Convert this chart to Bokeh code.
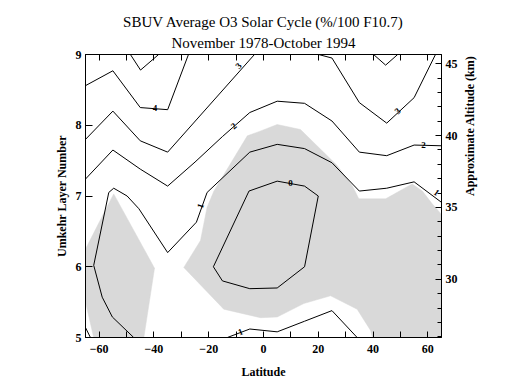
import math
from bokeh.plotting import figure
from bokeh.models import Range1d, LinearAxis, FixedTicker, Title
from bokeh.core.properties import value
from bokeh.embed import file_html
from bokeh.resources import INLINE

# ---- contour lines (latitude, Umkehr layer) ----
c4_lat = [-65, -55, -45, -35, -27.4]
c4_lay = [8.56, 8.77, 8.25, 8.22, 9.0]
c5_lat = [-48.6, -44.9, -38.3]
c5_lay = [9.0, 8.78, 9.0]
c3a_lat = [-65, -55, -45, -35, -3.3]
c3a_lay = [7.80, 8.20, 7.78, 7.62, 9.0]
c3b_lat = [20.1, 25, 35, 45, 55, 62.8]
c3b_lay = [9.0, 8.95, 8.32, 8.03, 8.39, 9.0]
c4b_lat = [40.2, 44.6, 49.0]
c4b_lay = [9.0, 8.85, 9.0]
c2_lat = [-65, -55, -45, -35, -25, -15, -5, 5, 15, 25, 35, 45, 55, 65]
c2_lay = [7.24, 7.65, 7.38, 7.14, 7.48, 7.84, 8.18, 8.34, 8.31, 8.06, 7.62, 7.57, 7.72, 7.71]
c1_lat = [65, 55, 45, 35, 25, 15, 5, -5, -20.6, -24.5, -35, -45.5, -49.8, -54.7, -56.5, -62.0, -58.9, -55.2, -47.4]
c1_lay = [6.91, 7.20, 7.11, 7.07, 7.47, 7.67, 7.73, 7.62, 7.05, 6.63, 6.20, 6.82, 7.0, 7.11, 7.05, 6.02, 5.57, 5.29, 5.0]
c1b_lat = [-13.2, -5, 5, 15, 25, 34.2]
c1b_lay = [5.0, 5.12, 5.08, 5.23, 5.38, 5.0]
c0_lat = [-18.3, -5.3, 5, 15, 20, 15, 5, -5, -15, -18.3]
c0_lay = [6.0, 7.07, 7.21, 7.14, 7.0, 6.0, 5.70, 5.69, 5.80, 6.0]
cc_lat = [-65, -63.2]
cc_lay = [5.14, 5.0]

contour_lines = [(c4_lat, c4_lay), (c5_lat, c5_lay), (c3a_lat, c3a_lay), (c3b_lat, c3b_lay),
                 (c4b_lat, c4b_lay), (c2_lat, c2_lay), (c1_lat, c1_lay), (c1b_lat, c1b_lay),
                 (c0_lat, c0_lay), (cc_lat, cc_lay)]

# ---- shaded (gray) regions ----
g1_lat = [-54.7, -39.8, -43.7, -62.0, -65, -65]
g1_lay = [7.03, 5.98, 5.0, 5.0, 5.5, 6.25]
g2_lat = [-29.1, -23.0, -20.6, -18.1, -5.9, -1.0, 5.0, 13.5, 26.9, 32.5, 34.8, 44.6, 54.3, 58.0, 61.6, 65,
          65, 39.8, 39.1, 34.2, 24.5, 14.7, 5.0, -1.1, -14.5]
g2_lay = [5.99, 6.37, 6.84, 7.07, 7.85, 7.92, 8.01, 7.94, 7.43, 7.14, 6.96, 6.96, 7.17, 7.07, 6.89, 6.74,
          5.0, 5.0, 5.10, 5.40, 5.59, 5.48, 5.29, 5.28, 5.40]

# ---- contour labels ----
label_lat = [-39.6, -9.1, 49.0, -10.9, 58.4, -23.0, 63.2, -8.4, 9.9]
label_lay = [8.25, 8.84, 8.20, 7.99, 7.72, 6.86, 7.05, 5.08, 7.19]
label_txt = ["4", "3", "3", "2", "2", "1", "1", "1", "0"]
label_angle = [0, 48, 43, 41, 0, 70, -37, 21, 0]

# ---- axes ----
lat_major = [-60, -40, -20, 0, 20, 40, 60]
lat_minor = [-50, -30, -10, 10, 30, 50]
layer_ticks = [5, 6, 7, 8, 9]
alt_major = [30, 35, 40, 45]
alt_minor = list(range(26, 46))
alt_range = (25.95, 45.64)

title_1 = "SBUV Average O3 Solar Cycle (%/100 F10.7)"
title_2 = "November 1978-October 1994"

FONT = "Liberation Serif"

p = figure(x_range=Range1d(-65, 65), y_range=Range1d(5, 9),
           frame_width=356, frame_height=283,
           min_border_left=85, min_border_right=75, min_border_top=54, min_border_bottom=41,
           output_backend="svg", toolbar_location=None, title=None)
p.xgrid.visible = False
p.ygrid.visible = False
p.outline_line_color = "black"
p.outline_line_width = 1

for lat, lay in [(g1_lat, g1_lay), (g2_lat, g2_lay)]:
    p.patch(lat, lay, fill_color="#d9d9d9", line_color="#d9d9d9", line_width=0.5)

for lat, lay in contour_lines:
    p.line(lat, lay, line_color="black", line_width=1)

p.text(x=label_lat, y=label_lay, text=label_txt, angle=label_angle, angle_units="deg",
       text_font=value(FONT), text_font_size="9px", text_font_style="bold",
       text_align="center", text_baseline="middle", text_color="black")

def style_axis(ax):
    ax.axis_line_color = "black"
    ax.major_tick_line_color = "black"
    ax.minor_tick_line_color = "black"
    ax.major_tick_out = 0
    ax.minor_tick_out = 0
    ax.major_label_text_font = FONT
    ax.major_label_text_font_size = "12px"
    ax.major_label_text_font_style = "bold"
    ax.major_label_text_color = "black"
    ax.axis_label_text_font = FONT
    ax.axis_label_text_font_size = "12px"
    ax.axis_label_text_font_style = "bold"
    ax.axis_label_text_color = "black"

xa = p.xaxis[0]
style_axis(xa)
xa.ticker = FixedTicker(ticks=lat_major, minor_ticks=lat_minor)
xa.major_tick_in = 6
xa.minor_tick_in = 6
xa.axis_label = "Latitude"
xa.major_label_standoff = 7
xa.axis_label_standoff = 9

ya = p.yaxis[0]
style_axis(ya)
ya.ticker = FixedTicker(ticks=layer_ticks, minor_ticks=[])
ya.major_tick_in = 7
ya.minor_tick_in = 0
ya.axis_label = "Umkehr Layer Number"
ya.major_label_standoff = 4
ya.axis_label_standoff = 4

# mirrored tick marks along the top edge (no labels drawn)
top = LinearAxis(ticker=FixedTicker(ticks=lat_major, minor_ticks=lat_minor))
style_axis(top)
top.major_tick_in = 6
top.minor_tick_in = 6
top.major_label_text_font_size = "1px"
top.major_label_text_color = None
top.major_label_standoff = 6
p.add_layout(top, "above")

p.add_layout(Title(text=title_2, align="center", text_font=FONT, text_font_size="15px",
                   text_font_style="normal", text_color="black", standoff=7), "above")
p.add_layout(Title(text=title_1, align="center", text_font=FONT, text_font_size="15px",
                   text_font_style="normal", text_color="black", standoff=0), "above")

p.extra_y_ranges = {"alt": Range1d(*alt_range)}
ra = LinearAxis(y_range_name="alt", ticker=FixedTicker(ticks=alt_major, minor_ticks=alt_minor))
style_axis(ra)
ra.major_tick_in = 6
ra.minor_tick_in = 4
ra.axis_label = "Approximate Altitude (km)"
ra.axis_label_orientation = math.pi / 2
ra.major_label_standoff = 4
ra.axis_label_standoff = 9
p.add_layout(ra, "right")

open("out.html", "w").write(file_html(p, INLINE))
